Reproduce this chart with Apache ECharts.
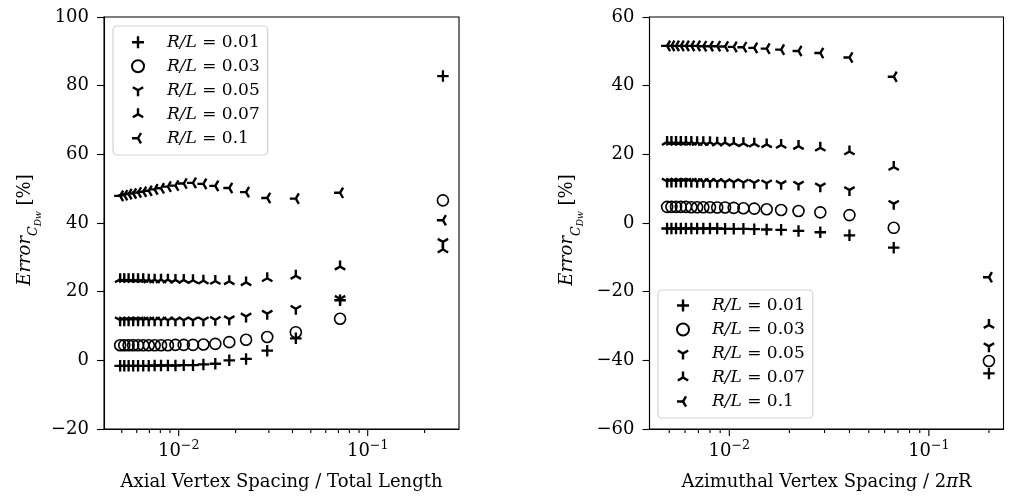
<!DOCTYPE html>
<html><head><meta charset="utf-8">
<script src="https://cdn.jsdelivr.net/npm/echarts@6/dist/echarts.min.js"></script>
<style>html,body{margin:0;padding:0;background:#fff}#c{width:1014px;height:499px}</style>
</head><body><div id="c"></div>
<script>
// ---- data ----
const axialSpacing = [0.004902, 0.005155, 0.005435, 0.005747, 0.006098, 0.006494, 0.006944, 0.007463, 0.008065, 0.008772, 0.009615, 0.010638, 0.011905, 0.013514, 0.015625, 0.018519, 0.022727, 0.029412, 0.041667, 0.071429, 0.25];
const azimuthalSpacing = [0.004878, 0.005128, 0.005405, 0.005714, 0.006061, 0.006452, 0.006897, 0.007407, 0.008, 0.008696, 0.009524, 0.010526, 0.011765, 0.013333, 0.015385, 0.018182, 0.022222, 0.028571, 0.04, 0.066667, 0.2];
const ratioLabels = ['0.01', '0.03', '0.05', '0.07', '0.1'];

const axialErr_001 = [-1.6, -1.6, -1.6, -1.6, -1.6, -1.6, -1.6, -1.5, -1.5, -1.5, -1.5, -1.4, -1.4, -1.2, -1.0, 0.0, 0.4, 2.8, 6.4, 17.5, 82.8];
const axialErr_003 = [4.4, 4.4, 4.4, 4.4, 4.4, 4.4, 4.4, 4.4, 4.4, 4.4, 4.5, 4.5, 4.5, 4.6, 4.8, 5.3, 6.0, 6.8, 8.2, 12.1, 46.6];
const axialErr_005 = [11.7, 11.7, 11.7, 11.7, 11.7, 11.7, 11.7, 11.7, 11.7, 11.7, 11.7, 11.7, 11.7, 11.7, 11.8, 12.0, 12.8, 13.6, 15.0, 17.9, 34.5];
const axialErr_007 = [23.6, 23.6, 23.6, 23.6, 23.6, 23.6, 23.5, 23.5, 23.5, 23.5, 23.4, 23.4, 23.3, 23.2, 23.1, 23.0, 22.7, 23.9, 24.6, 27.3, 32.3];
const axialErr_010 = [47.9, 48.1, 48.4, 48.6, 48.9, 49.1, 49.4, 49.8, 50.1, 50.6, 50.9, 51.5, 51.7, 51.4, 50.8, 50.2, 49.0, 47.3, 47.1, 48.8, 40.8];

const azimErr_001 = [-1.6, -1.6, -1.6, -1.6, -1.6, -1.6, -1.6, -1.6, -1.6, -1.6, -1.7, -1.7, -1.7, -1.8, -1.9, -2.0, -2.3, -2.7, -3.6, -7.2, -43.8];
const azimErr_003 = [4.7, 4.7, 4.7, 4.7, 4.7, 4.6, 4.6, 4.6, 4.6, 4.5, 4.5, 4.4, 4.3, 4.2, 4.0, 3.8, 3.5, 3.1, 2.3, -1.4, -40.2];
const azimErr_005 = [12.1, 12.1, 12.1, 12.1, 12.1, 12.1, 12.0, 12.0, 12.0, 12.0, 11.9, 11.9, 11.8, 11.7, 11.6, 11.4, 11.2, 10.7, 9.6, 5.6, -35.9];
const azimErr_007 = [23.6, 23.6, 23.6, 23.6, 23.6, 23.6, 23.5, 23.5, 23.5, 23.4, 23.4, 23.3, 23.2, 23.1, 22.9, 22.7, 22.4, 21.9, 20.8, 16.3, -29.7];
const azimErr_010 = [51.6, 51.6, 51.6, 51.6, 51.6, 51.6, 51.6, 51.5, 51.5, 51.5, 51.4, 51.3, 51.2, 51.0, 50.8, 50.5, 50.1, 49.5, 48.2, 42.6, -15.8];

const majorTicks = [0.01, 0.1];
const minorTicks = [0.005, 0.006, 0.007, 0.008, 0.009, 0.02, 0.03, 0.04, 0.05, 0.06, 0.07, 0.08, 0.09, 0.2];

// ---- styling helpers ----
const FONT = 'DejaVu Serif';
const FS = 18;
const LFS = 17;

function armsPath(ends, h) {
  let d = 'M-1 -1L-1 -1Z M1 1L1 1Z ';
  ends.forEach(function (e) {
    const len = Math.hypot(e[0], e[1]), ux = e[0] / len, uy = e[1] / len, nx = -uy, ny = ux;
    const sx = -ux * h, sy = -uy * h;
    const p = [[sx - nx * h, sy - ny * h], [e[0] - nx * h, e[1] - ny * h], [e[0] + nx * h, e[1] + ny * h], [sx + nx * h, sy + ny * h]];
    d += 'M' + p.map(function (q) { return q[0].toFixed(3) + ' ' + q[1].toFixed(3); }).join('L') + 'Z ';
  });
  return 'path://' + d;
}
const markers = [
  { symbol: armsPath([[1, 0], [-1, 0], [0, 1], [0, -1]], 0.2), size: 11.5 },
  { symbol: 'circle', size: 11, hollow: true },
  { symbol: armsPath([[0, 1], [-0.866, -0.5], [0.866, -0.5]], 0.2), size: 12 },
  { symbol: armsPath([[0, -1], [-0.866, 0.5], [0.866, 0.5]], 0.2), size: 12 },
  { symbol: armsPath([[-1, 0], [0.5, -0.866], [0.5, 0.866]], 0.2), size: 12 }
];
const names = ratioLabels.map(function (r) { return 'R/L = ' + r; });

function scatter(k, xs, ys, gi) {
  const m = markers[k];
  return {
    type: 'scatter', name: names[k], xAxisIndex: gi, yAxisIndex: gi,
    data: xs.map(function (x, i) { return [x, ys[i]]; }),
    symbol: m.symbol, symbolSize: m.size, silent: true, z: 3,
    itemStyle: m.hollow ? { color: 'rgba(0,0,0,0)', borderColor: '#000', borderWidth: 1.6, opacity: 1 } : { color: '#000', borderWidth: 0, opacity: 1 }
  };
}
function tickSeries(vals, len, gi) {
  return {
    type: 'custom', xAxisIndex: gi, yAxisIndex: gi, silent: true, z: 5,
    data: vals.map(function (v) { return [v, 0]; }),
    renderItem: function (params, api) {
      const cs = params.coordSys;
      const p = api.coord([api.value(0), 0]);
      const yb = cs.y + cs.height;
      return { type: 'line', shape: { x1: p[0], y1: yb, x2: p[0], y2: yb + len }, style: { stroke: '#000', lineWidth: 1.1 } };
    }
  };
}
function xLabelFmt(v) {
  const l = Math.log10(v), e = Math.round(l);
  if (Math.abs(l - e) > 1e-6) return '';
  return '{b|10}{s|' + (e < 0 ? '\u2212' : '') + Math.abs(e) + '}';
}
const xRich = {
  b: { fontFamily: FONT, fontSize: FS, lineHeight: 22, padding: [3, 0, 0, 0], verticalAlign: 'top', color: '#000' },
  s: { fontFamily: FONT, fontSize: 12.6, lineHeight: 14, verticalAlign: 'top', color: '#000' }
};
const yNameRich = {
  e: { fontFamily: FONT, fontStyle: 'italic', fontSize: FS, lineHeight: 22, verticalAlign: 'top', color: '#000' },
  c: { fontFamily: FONT, fontStyle: 'italic', fontSize: 12.6, lineHeight: 13, padding: [11.4, 0, 0, 0], verticalAlign: 'top', color: '#000' },
  d: { fontFamily: FONT, fontStyle: 'italic', fontSize: 9, lineHeight: 9, padding: [18, 0, 0, 0], verticalAlign: 'top', color: '#000' },
  n: { fontFamily: FONT, fontSize: FS, lineHeight: 22, padding: [0, 14, 0, 6], verticalAlign: 'top', color: '#000' }
};
const yName = '{e|Error}{c|C}{d|Dw}{n|[%]}';

function xAxis(gi, min, max, name) {
  return {
    type: 'log', logBase: 10, gridIndex: gi, min: min, max: max,
    name: name, nameLocation: 'middle', nameGap: 44,
    nameTextStyle: { fontFamily: FONT, fontSize: FS, color: '#000', rich: {
      n: { fontFamily: FONT, fontSize: FS, color: '#000' },
      i: { fontFamily: FONT, fontStyle: 'italic', fontSize: FS, color: '#000' } } },
    axisLine: { show: true, onZero: false, lineStyle: { color: '#000', width: 1.1 } },
    axisTick: { show: false },
    minorTick: { show: false },
    splitLine: { show: false },
    axisLabel: { margin: 10, formatter: xLabelFmt, rich: xRich, color: '#000' }
  };
}
function yAxis(gi, min, max, gap) {
  return {
    type: 'value', gridIndex: gi, min: min, max: max, interval: 20,
    name: yName, nameLocation: 'middle', nameGap: gap, nameRotate: 90,
    nameTextStyle: { rich: yNameRich, color: '#000' },
    axisLine: { show: true, onZero: false, lineStyle: { color: '#000', width: 1.1 } },
    axisTick: { show: true, length: 7, lineStyle: { color: '#000', width: 1.1 } },
    splitLine: { show: false },
    axisLabel: { margin: 15, fontFamily: FONT, fontSize: FS, color: '#000',
      formatter: function (v) { return String(v).replace('-', '\u2212'); } }
  };
}
function legend(left, top, padding) {
  return {
    data: names, orient: 'vertical', left: left, top: top,
    itemWidth: 48, itemHeight: 12, itemGap: 7, padding: padding,
    borderColor: '#d3d3d3', borderWidth: 1.2, borderRadius: 4, backgroundColor: 'rgba(255,255,255,0.8)',
    selectedMode: false,
    formatter: function (n) { return '{i|R/L}{n| = ' + n.split('= ')[1] + '}'; },
    textStyle: { color: '#000', rich: {
      i: { fontFamily: FONT, fontStyle: 'italic', fontSize: LFS, lineHeight: 18, color: '#000' },
      n: { fontFamily: FONT, fontSize: LFS, lineHeight: 18, color: '#000' } } }
  };
}

const chart = echarts.init(document.getElementById('c'));
chart.setOption({
  animation: false,
  backgroundColor: '#fff',
  grid: [
    { left: 104, top: 17, width: 355, height: 412, show: true, borderColor: '#000', borderWidth: 1.1, backgroundColor: 'transparent' },
    { left: 649.5, top: 17, width: 354, height: 412, show: true, borderColor: '#000', borderWidth: 1.1, backgroundColor: 'transparent' }
  ],
  xAxis: [
    xAxis(0, 0.004027, 0.3041, 'Axial Vertex Spacing / Total Length'),
    xAxis(1, 0.003981, 0.2366, '{n|Azimuthal Vertex Spacing / 2}{i|\u03c0}{n|R}')
  ],
  yAxis: [ yAxis(0, -20, 100, 66), yAxis(1, -60, 60, 69) ],
  legend: [ legend(113, 26, [7.7, 8, 8.3, 18]), legend(658, 290, [7, 8, 8, 18]) ],
  series: [
    scatter(0, axialSpacing, axialErr_001, 0),
    scatter(1, axialSpacing, axialErr_003, 0),
    scatter(2, axialSpacing, axialErr_005, 0),
    scatter(3, axialSpacing, axialErr_007, 0),
    scatter(4, axialSpacing, axialErr_010, 0),
    scatter(0, azimuthalSpacing, azimErr_001, 1),
    scatter(1, azimuthalSpacing, azimErr_003, 1),
    scatter(2, azimuthalSpacing, azimErr_005, 1),
    scatter(3, azimuthalSpacing, azimErr_007, 1),
    scatter(4, azimuthalSpacing, azimErr_010, 1),
    tickSeries(majorTicks, 7, 0), tickSeries(minorTicks, 4, 0),
    tickSeries(majorTicks, 7, 1), tickSeries(minorTicks, 4, 1)
  ]
});
</script></body></html>
